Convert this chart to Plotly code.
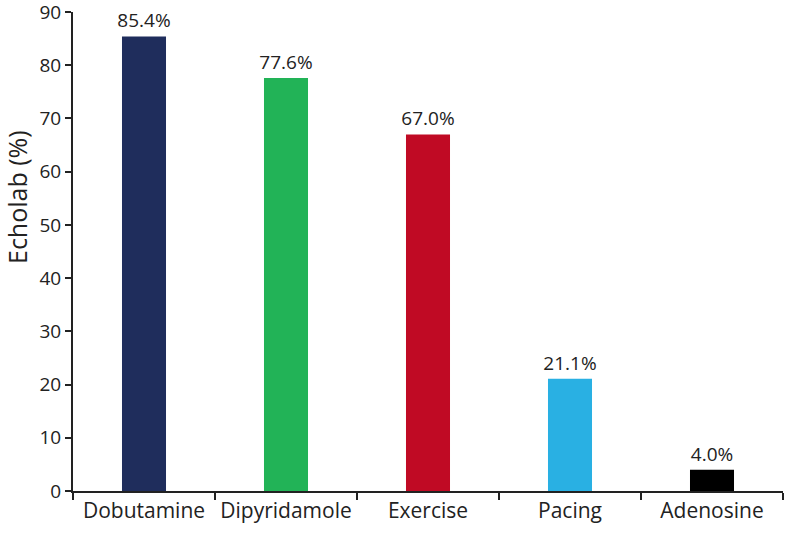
import plotly.graph_objects as go

categories = ["Dobutamine", "Dipyridamole", "Exercise", "Pacing", "Adenosine"]
values = [85.4, 77.6, 67.0, 21.1, 4.0]
labels = ["85.4%", "77.6%", "67.0%", "21.1%", "4.0%"]
colors = ["#1F2D5C", "#22B357", "#C00A24", "#29B0E3", "#000000"]
y_ticks = [0, 10, 20, 30, 40, 50, 60, 70, 80, 90]

W, H = 788, 539
ML, MR, MT, MB = 73, 5, 12, 48

fig = go.Figure(go.Bar(
    x=categories, y=values, text=labels, textposition="outside",
    marker=dict(color=colors, line=dict(width=0)),
    textfont=dict(size=19, color="#222222"),
    constraintext="none",
    cliponaxis=False,
))

fig.update_layout(
    width=W, height=H,
    margin=dict(l=ML, r=MR, t=MT, b=MB, autoexpand=False),
    paper_bgcolor="white", plot_bgcolor="white",
    bargap=0.69,
    showlegend=False,
    font=dict(family="Open Sans", color="#222222"),
)
fig.update_xaxes(
    showline=True, linecolor="#222222", linewidth=2,
    ticks="outside", tickson="boundaries", ticklen=7, tickwidth=2, tickcolor="#222222",
    tickfont=dict(size=21), showgrid=False, automargin=False,
)
fig.update_yaxes(
    range=[0, 90], tickvals=y_ticks,
    showline=True, linecolor="#222222", linewidth=2,
    ticks="outside", ticklen=6, tickwidth=2, tickcolor="#222222",
    tickfont=dict(size=19), showgrid=False, zeroline=False,
    ticklabeloverflow="allow", automargin=False,
)
fig.add_annotation(
    text="Echolab (%)", textangle=-90, showarrow=False,
    xref="paper", yref="paper",
    x=(17 - ML) / (W - ML - MR), y=(H - MB - 197) / (H - MT - MB),
    xanchor="center", yanchor="middle",
    font=dict(size=25, color="#222222"),
)

fig.write_html("out.html", config={"displayModeBar": False},
               post_script="document.body.style.margin='0';")
